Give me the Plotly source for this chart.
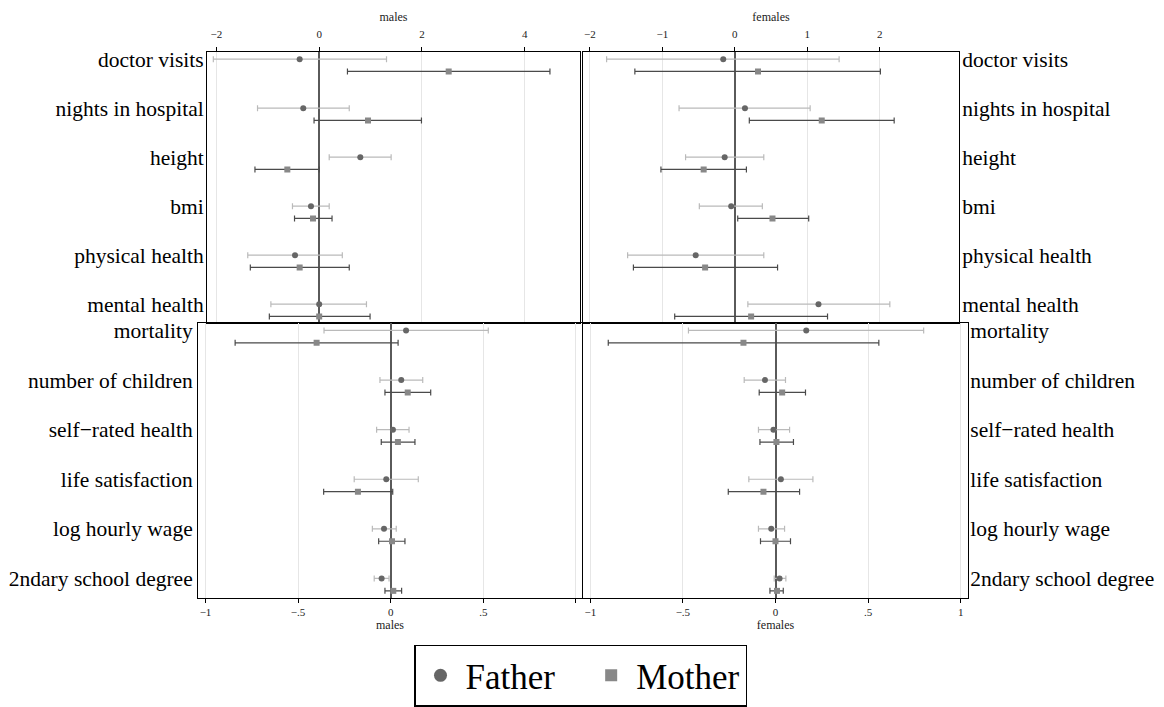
import plotly.graph_objects as go

# ---------------- data ----------------
top_cats = ["doctor visits", "nights in hospital", "height", "bmi",
            "physical health", "mental health"]
bottom_cats = ["mortality", "number of children", "self\u2212rated health",
               "life satisfaction", "log hourly wage", "2ndary school degree"]

# males, top block
m_top_father_pt = [-0.38, -0.31, 0.80, -0.16, -0.47, 0.00]
m_top_father_lo = [-2.06, -1.20, 0.195, -0.52, -1.39, -0.94]
m_top_father_hi = [1.31, 0.585, 1.40, 0.195, 0.45, 0.92]
m_top_mother_pt = [2.52, 0.95, -0.62, -0.12, -0.38, 0.00]
m_top_mother_lo = [0.55, -0.10, -1.25, -0.48, -1.34, -0.97]
m_top_mother_hi = [4.49, 1.99, 0.00, 0.25, 0.585, 0.99]

# females, top block
f_top_father_pt = [-0.16, 0.14, -0.14, -0.05, -0.54, 1.155]
f_top_father_lo = [-1.77, -0.77, -0.68, -0.49, -1.48, 0.18]
f_top_father_hi = [1.44, 1.04, 0.40, 0.38, 0.40, 2.14]
f_top_mother_pt = [0.32, 1.20, -0.43, 0.52, -0.41, 0.225]
f_top_mother_lo = [-1.38, 0.20, -1.02, 0.04, -1.40, -0.83]
f_top_mother_hi = [2.01, 2.20, 0.16, 1.02, 0.59, 1.28]

# males, bottom block
m_bot_father_pt = [0.083, 0.057, 0.012, -0.024, -0.036, -0.049]
m_bot_father_lo = [-0.36, -0.058, -0.076, -0.197, -0.099, -0.089]
m_bot_father_hi = [0.527, 0.173, 0.099, 0.149, 0.030, -0.009]
m_bot_mother_pt = [-0.40, 0.092, 0.039, -0.177, 0.007, 0.014]
m_bot_mother_lo = [-0.84, -0.031, -0.051, -0.362, -0.065, -0.031]
m_bot_mother_hi = [0.04, 0.216, 0.131, 0.011, 0.077, 0.059]

# females, bottom block
f_bot_father_pt = [0.166, -0.057, -0.011, 0.029, -0.023, 0.022]
f_bot_father_lo = [-0.47, -0.169, -0.092, -0.144, -0.092, -0.007]
f_bot_father_hi = [0.80, 0.054, 0.076, 0.202, 0.049, 0.056]
f_bot_mother_pt = [-0.173, 0.036, 0.005, -0.065, 0.000, 0.008]
f_bot_mother_lo = [-0.903, -0.088, -0.084, -0.255, -0.081, -0.030]
f_bot_mother_hi = [0.558, 0.162, 0.097, 0.130, 0.081, 0.042]

top_ticks_m = [-2, 0, 2, 4]
top_ticktext_m = ["\u22122", "0", "2", "4"]
top_ticks_f = [-2, -1, 0, 1, 2]
top_ticktext_f = ["\u22122", "\u22121", "0", "1", "2"]
bot_ticks = [-1, -0.5, 0, 0.5, 1]
bot_ticktext_m = ["\u22121", "\u2212.5", "0", ".5", ""]
bot_ticktext_f = ["\u22121", "\u2212.5", "0", ".5", "1"]

legend_names = ["Father", "Mother"]

# ---------------- style ----------------
FONT = "Liberation Serif, 'Times New Roman', Times, serif"
FATHER_MARK = "#666666"
MOTHER_MARK = "#888888"
FATHER_CI = "#bababa"
MOTHER_CI = "#4a4a4a"
MOTHER_OFFSET = 0.25
NBSP = "\u00a0"

fig = go.Figure()


def add_panel(xa, ya, cats, fpt, flo, fhi, mpt, mlo, mhi):
    idx = list(range(len(cats)))
    fig.add_trace(go.Scatter(
        x=fpt, y=idx, xaxis=xa, yaxis=ya, mode="markers",
        marker=dict(symbol="circle", size=6, color=FATHER_MARK),
        error_x=dict(type="data", symmetric=False,
                     array=[h - p for h, p in zip(fhi, fpt)],
                     arrayminus=[p - l for p, l in zip(fpt, flo)],
                     color=FATHER_CI, thickness=1.2, width=3),
        showlegend=False, hoverinfo="skip"))
    fig.add_trace(go.Scatter(
        x=mpt, y=[i + MOTHER_OFFSET for i in idx], xaxis=xa, yaxis=ya,
        mode="markers",
        marker=dict(symbol="square", size=6, color=MOTHER_MARK),
        error_x=dict(type="data", symmetric=False,
                     array=[h - p for h, p in zip(mhi, mpt)],
                     arrayminus=[p - l for p, l in zip(mpt, mlo)],
                     color=MOTHER_CI, thickness=1.2, width=3),
        showlegend=False, hoverinfo="skip"))


add_panel("x", "y", top_cats, m_top_father_pt, m_top_father_lo, m_top_father_hi,
          m_top_mother_pt, m_top_mother_lo, m_top_mother_hi)
add_panel("x2", "y2", top_cats, f_top_father_pt, f_top_father_lo, f_top_father_hi,
          f_top_mother_pt, f_top_mother_lo, f_top_mother_hi)
add_panel("x3", "y3", bottom_cats, m_bot_father_pt, m_bot_father_lo, m_bot_father_hi,
          m_bot_mother_pt, m_bot_mother_lo, m_bot_mother_hi)
add_panel("x4", "y4", bottom_cats, f_bot_father_pt, f_bot_father_lo, f_bot_father_hi,
          f_bot_mother_pt, f_bot_mother_lo, f_bot_mother_hi)

# legend entries
fig.add_trace(go.Scatter(x=[None], y=[None], mode="markers",
                         name=legend_names[0] + NBSP * 3,
                         marker=dict(symbol="circle", size=13, color=FATHER_MARK)))
fig.add_trace(go.Scatter(x=[None], y=[None], mode="markers",
                         name=legend_names[1],
                         marker=dict(symbol="square", size=12, color=MOTHER_MARK)))

W, H = 1164, 707


def xdom(a, b):
    return [a / W, b / W]


def ydom(top, bottom):
    return [1 - bottom / H, 1 - top / H]


xcommon = dict(showline=True, linecolor="black", linewidth=1, mirror=True,
               showgrid=True, gridcolor="#e6e6e6", gridwidth=1,
               zeroline=True, zerolinecolor="#5a5a5a", zerolinewidth=1.5,
               ticks="outside", ticklen=4, tickcolor="black", tickwidth=1,
               tickfont=dict(family=FONT, size=11, color="#222"),
               tickmode="array", fixedrange=True)
ycommon = dict(showline=True, linecolor="black", linewidth=1, mirror=True,
               showgrid=False, zeroline=False, ticks="",
               tickfont=dict(family=FONT, size=21.5, color="black"),
               tickmode="array", fixedrange=True)
title_font = dict(family=FONT, size=12, color="#222")

fig.update_layout(
    width=W, height=H, margin=dict(l=0, r=0, t=0, b=0),
    paper_bgcolor="white", plot_bgcolor="white",
    font=dict(family=FONT, color="black"),
    xaxis=dict(**xcommon, domain=xdom(207, 580), anchor="y", side="top",
               range=[-2.183, 5.075], tickvals=top_ticks_m, ticktext=top_ticktext_m,
               ticklabelstandoff=4,
               title=dict(text="males", font=title_font, standoff=3)),
    yaxis=dict(**ycommon, domain=ydom(48, 322), anchor="x", side="left",
               range=[5.380, -0.156], tickvals=list(range(len(top_cats))),
               ticktext=top_cats, ticklabelstandoff=-2),
    xaxis2=dict(**xcommon, domain=xdom(583, 959), anchor="y2", side="top",
                range=[-2.096, 3.095], tickvals=top_ticks_f, ticktext=top_ticktext_f,
                ticklabelstandoff=4,
                title=dict(text="females", font=title_font, standoff=3)),
    yaxis2=dict(**ycommon, domain=ydom(48, 322), anchor="x2", side="right",
                range=[5.380, -0.156], tickvals=list(range(len(top_cats))),
                ticktext=top_cats, ticklabelstandoff=-2),
    xaxis3=dict(**xcommon, domain=xdom(198, 582), anchor="y3", side="bottom",
                range=[-1.0405, 1.033], tickvals=bot_ticks, ticktext=bot_ticktext_m,
                title=dict(text="males", font=title_font, standoff=3)),
    yaxis3=dict(**ycommon, domain=ydom(322, 600), anchor="x3", side="left",
                range=[5.395, -0.154], tickvals=list(range(len(bottom_cats))),
                ticktext=bottom_cats),
    xaxis4=dict(**xcommon, domain=xdom(583, 968), anchor="y4", side="bottom",
                range=[-1.0394, 1.0394], tickvals=bot_ticks, ticktext=bot_ticktext_f,
                title=dict(text="females", font=title_font, standoff=3)),
    yaxis4=dict(**ycommon, domain=ydom(322, 600), anchor="x4", side="right",
                range=[5.395, -0.154], tickvals=list(range(len(bottom_cats))),
                ticktext=bottom_cats, ticklabelstandoff=-3),
    legend=dict(orientation="h", x=580.5 / W, xanchor="center",
                y=1 - 647 / H, yanchor="top",
                bordercolor="black", borderwidth=1.5, bgcolor="white",
                font=dict(family=FONT, size=35, color="black"),
                itemwidth=40, itemsizing="trace"),
)

fig.write_html("out.html")
